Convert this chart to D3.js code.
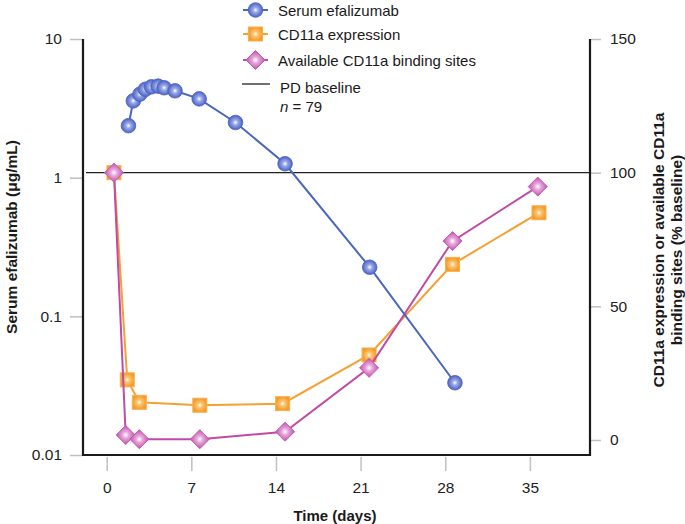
<!DOCTYPE html>
<html><head><meta charset="utf-8">
<script src="https://cdn.jsdelivr.net/npm/d3@7"></script>
<style>
body{margin:0;background:#fff;}
text{font-family:"Liberation Sans",Arial,Helvetica,sans-serif;}
</style></head>
<body><svg id="c" width="685" height="524"></svg>
<script>
// ---- data ----
const serumDays   = [1.8, 2.2, 2.75, 3.2, 3.7, 4.25, 4.75, 5.65, 7.65, 10.65, 14.75, 21.75, 28.8];
const serumValues = [2.37, 3.58, 4.0, 4.34, 4.52, 4.57, 4.45, 4.23, 3.7, 2.5, 1.26, 0.226, 0.0332];
const cd11aDays   = [0.6, 1.7, 2.7, 7.7, 14.55, 21.7, 28.6, 35.75];
const cd11aValues = [100, 22.5, 14.1, 13.0, 13.6, 31.8, 65.7, 85.0];
const sitesDays   = [0.6, 1.57, 2.7, 7.7, 14.75, 21.7, 28.6, 35.65];
const sitesValues = [100, 1.9, 0.3, 0.3, 3.1, 27.0, 74.4, 94.8];
const xTicks = [0, 7, 14, 21, 28, 35];
const leftTicks = [0.01, 0.1, 1, 10];
const leftTickLabels = ["0.01", "0.1", "1", "10"];
const rightTicks = [0, 50, 100, 150];
const pdBaseline = 100;
const legendItems = ["Serum efalizumab", "CD11a expression", "Available CD11a binding sites"];

const svg = d3.select("#c");
const x = d3.scaleLinear().domain([-1.96, 39.97]).range([83, 590]);
const yL = d3.scaleLog().domain([0.01, 10]).range([455, 39]);
const yR = d3.scaleLinear().domain([0, 150]).range([440, 39]);

// gradients
const defs = svg.append("defs");
function grad(id, inner, outer) {
  const g = defs.append("radialGradient").attr("id", id).attr("cx", "50%").attr("cy", "50%").attr("r", "50%");
  g.append("stop").attr("offset", "0%").attr("stop-color", "#ffffff");
  g.append("stop").attr("offset", "35%").attr("stop-color", inner);
  g.append("stop").attr("offset", "100%").attr("stop-color", outer);
}
grad("gBlue", "#9aa8e6", "#4a62c4");
grad("gOrange", "#fbc670", "#f59a26");
grad("gPink", "#e6a6da", "#c14fab");

// axes
const tickGray = "#c0c0c0";
const gl = svg.append("g").attr("transform", "translate(83,0)")
  .call(d3.axisLeft(yL).tickValues(leftTicks).tickFormat((d,i)=>leftTickLabels[i]).tickSize(13).tickPadding(8));
const gr = svg.append("g").attr("transform", "translate(591,0)")
  .call(d3.axisRight(yR).tickValues(rightTicks).tickSize(10).tickPadding(9));
const gb = svg.append("g").attr("transform", "translate(0,457)")
  .call(d3.axisBottom(x).tickValues(xTicks).tickSize(14).tickPadding(11));
[gl, gr, gb].forEach(g => {
  g.select(".domain").remove();
  g.selectAll(".tick line").attr("stroke", tickGray).attr("stroke-width", 1.5);
  g.selectAll(".tick text").attr("fill", "#222").style("font-size", "15.5px")
    .style("font-family", '"Liberation Sans",Arial,sans-serif');
});

// frame lines
svg.append("path").attr("d", `M83,39V455H590V39`).attr("fill", "none")
  .attr("stroke", "#1a1a1a").attr("stroke-width", 2.2);

// PD baseline
svg.append("line").attr("x1", 86).attr("x2", 590)
  .attr("y1", yR(pdBaseline)).attr("y2", yR(pdBaseline))
  .attr("stroke", "#222").attr("stroke-width", 1.3);

// series
const line = (ys) => d3.line().x(d => x(d[0])).y(d => ys(d[1]));
const cd11a = cd11aDays.map((d,i)=>[d, cd11aValues[i]]);
const sites = sitesDays.map((d,i)=>[d, sitesValues[i]]);
const serum = serumDays.map((d,i)=>[d, serumValues[i]]);

function drawSquares(g, data, ys) {
  g.selectAll(null).data(data).enter().append("rect")
    .attr("x", d => x(d[0]) - 7).attr("y", d => ys(d[1]) - 7)
    .attr("width", 14).attr("height", 14)
    .attr("fill", "url(#gOrange)").attr("stroke", "#f7b050").attr("stroke-width", 1);
}
function drawDiamonds(g, data, ys) {
  g.selectAll(null).data(data).enter().append("path")
    .attr("d", d => { const cx = x(d[0]), cy = ys(d[1]), r = 9.5;
      return `M${cx},${cy-r}L${cx+r},${cy}L${cx},${cy+r}L${cx-r},${cy}Z`; })
    .attr("fill", "url(#gPink)").attr("stroke", "#c65cb0").attr("stroke-width", 1);
}
function drawCircles(g, data, ys) {
  g.selectAll(null).data(data).enter().append("circle")
    .attr("cx", d => x(d[0])).attr("cy", d => ys(d[1])).attr("r", 7.3)
    .attr("fill", "url(#gBlue)").attr("stroke", "#4a62c4").attr("stroke-width", 0.8);
}

const gO = svg.append("g");
gO.append("path").datum(cd11a).attr("d", line(yR)).attr("fill", "none").attr("stroke", "#f5a032").attr("stroke-width", 2);
const gP = svg.append("g");
gP.append("path").datum(sites).attr("d", line(yR)).attr("fill", "none").attr("stroke", "#c04aa6").attr("stroke-width", 2);
const gB = svg.append("g");
gB.append("path").datum(serum).attr("d", line(yL)).attr("fill", "none").attr("stroke", "#4a66bf").attr("stroke-width", 2);
drawSquares(gO, cd11a, yR);
drawDiamonds(gP, sites, yR);
drawCircles(gB, serum, yL);

// axis titles
svg.append("text").attr("transform", "translate(13,237) rotate(-90)")
  .attr("text-anchor", "middle").attr("dominant-baseline", "middle")
  .style("font-size", "15.5px").style("font-weight", "bold").attr("fill", "#1a1a1a")
  .text("Serum efalizumab (μg/mL)");
const rt = svg.append("text").attr("transform", "translate(667,250) rotate(-90)")
  .attr("text-anchor", "middle").style("font-size", "15.5px").style("font-weight", "bold").attr("fill", "#1a1a1a");
rt.append("tspan").attr("x", 0).attr("y", -3).text("CD11a expression or available CD11a");
rt.append("tspan").attr("x", 0).attr("y", 15).text("binding sites (% baseline)");
svg.append("text").attr("x", 335).attr("y", 521).attr("text-anchor", "middle")
  .style("font-size", "15px").style("font-weight", "bold").attr("fill", "#1a1a1a").text("Time (days)");

// legend
const lg = svg.append("g");
const rowsY = [10, 34, 60];
const legendColors = ["#4a66bf", "#f5a032", "#c04aa6"];
rowsY.forEach((yy, i) => {
  lg.append("line").attr("x1", 243).attr("x2", 268).attr("y1", yy).attr("y2", yy)
    .attr("stroke", legendColors[i]).attr("stroke-width", 2);
  lg.append("text").attr("x", 278).attr("y", yy + 5.5).style("font-size", "15px").attr("fill", "#1a1a1a").text(legendItems[i]);
});
const lx = x.invert(255.5);
drawCircles(lg, [[lx, 0]], () => rowsY[0]);
drawSquares(lg, [[lx, 0]], () => rowsY[1]);
drawDiamonds(lg, [[lx, 0]], () => rowsY[2]);
lg.append("line").attr("x1", 242).attr("x2", 270).attr("y1", 84).attr("y2", 84).attr("stroke", "#222").attr("stroke-width", 1.3);
lg.append("text").attr("x", 280).attr("y", 93).style("font-size", "15px").attr("fill", "#1a1a1a").text("PD baseline");
const nt = lg.append("text").attr("x", 280).attr("y", 112).style("font-size", "15px").attr("fill", "#1a1a1a");
nt.append("tspan").style("font-style", "italic").text("n");
nt.append("tspan").text(" = 79");
</script></body></html>
